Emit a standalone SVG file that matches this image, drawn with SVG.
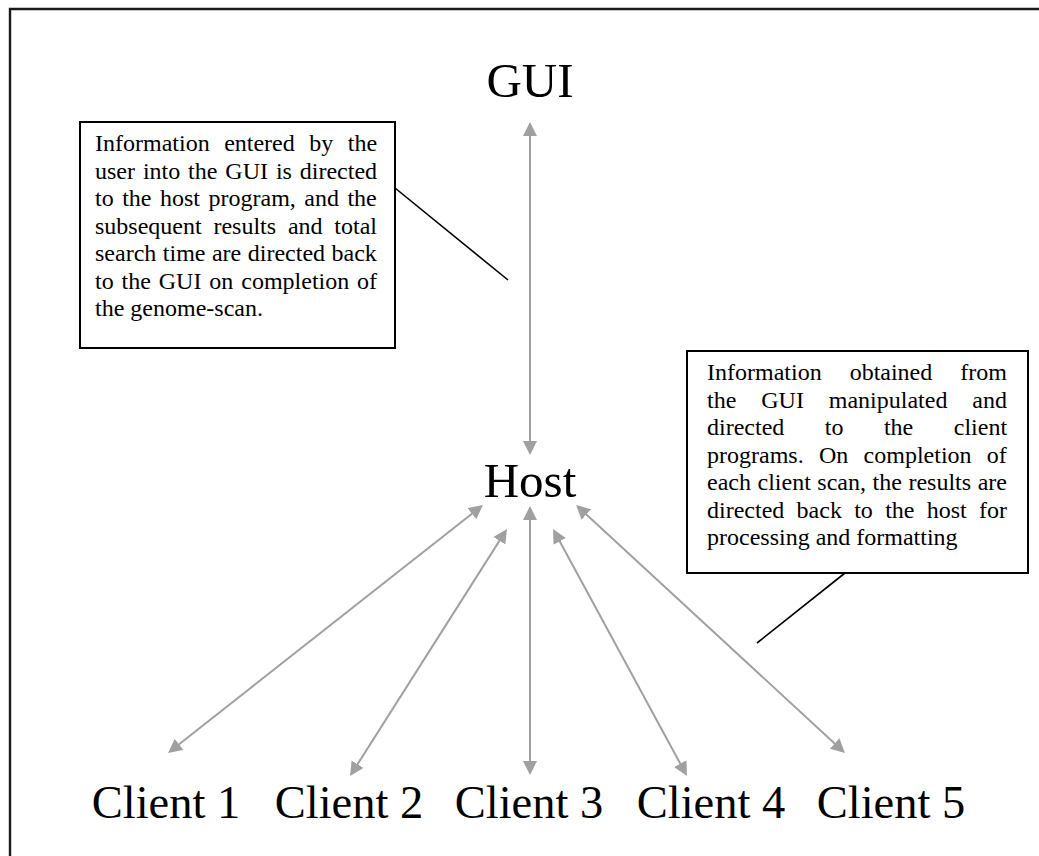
<svg xmlns="http://www.w3.org/2000/svg" width="1039" height="856" viewBox="0 0 1039 856">
<style>
.big{font-family:"Liberation Serif","Times New Roman",serif;fill:#000;text-anchor:middle}
.note{font-family:"Liberation Serif","Times New Roman",serif;font-size:24px;fill:#000}
.box{fill:#fff;stroke:#000;stroke-width:2}
.arr{stroke:#a0a0a0;stroke-width:2;fill:none;marker-start:url(#ah);marker-end:url(#ah)}
.lead{stroke:#000;stroke-width:1.6;fill:none}
</style>
<defs>
<marker id="ah" markerUnits="userSpaceOnUse" markerWidth="15" markerHeight="15" refX="4" refY="7" orient="auto-start-reverse" viewBox="0 0 15 14">
<path d="M0,0 L14,7 L0,14 z" fill="#a0a0a0"/>
</marker>
</defs>
<rect width="1039" height="856" fill="#fff"/>
<path d="M10,856 L10,9 L1039,9" fill="none" stroke="#1a1a1a" stroke-width="2.4"/>
<g id="connectors">
<line class="arr" x1="530" y1="132" x2="530" y2="445"/>
<line class="arr" x1="475.1" y1="511.2" x2="175.9" y2="746.8"/>
<line class="arr" x1="501.6" y1="537.4" x2="355.4" y2="767.6"/>
<line class="arr" x1="530" y1="516" x2="530" y2="765"/>
<line class="arr" x1="557.8" y1="537.8" x2="682.2" y2="767.2"/>
<line class="arr" x1="583.4" y1="511.8" x2="837.6" y2="746.2"/>
<line class="lead" x1="395" y1="188" x2="508" y2="280"/>
<line class="lead" x1="845" y1="573" x2="757" y2="643"/>
</g>
<g id="gui"><text class="big" x="530" y="97" font-size="49">GUI</text></g>
<g id="host"><text class="big" x="530" y="497" font-size="49">Host</text></g>
<g id="client1"><text class="big" x="166" y="818" font-size="46.5">Client 1</text></g>
<g id="client2"><text class="big" x="349" y="818" font-size="46.5">Client 2</text></g>
<g id="client3"><text class="big" x="529" y="818" font-size="46.5">Client 3</text></g>
<g id="client4"><text class="big" x="711" y="818" font-size="46.5">Client 4</text></g>
<g id="client5"><text class="big" x="891" y="818" font-size="46.5">Client 5</text></g>
<g id="note-gui">
<rect class="box" x="80" y="122" width="315" height="226"/>
<text class="note" x="95" y="151" word-spacing="8.5">Information entered by the</text>
<text class="note" x="95" y="178.5" word-spacing="1.9">user into the GUI is directed</text>
<text class="note" x="95" y="206" word-spacing="2.5">to the host program, and the</text>
<text class="note" x="95" y="233.5" word-spacing="5.8">subsequent results and total</text>
<text class="note" x="95" y="261" word-spacing="0.5">search time are directed back</text>
<text class="note" x="95" y="288.5" word-spacing="1.9">to the GUI on completion of</text>
<text class="note" x="95" y="316">the genome-scan.</text>
</g>
<g id="note-host">
<rect class="box" x="687" y="351" width="341" height="222"/>
<text class="note" x="707" y="380" word-spacing="22">Information obtained from</text>
<text class="note" x="707" y="407.5" word-spacing="18.9">the GUI manipulated and</text>
<text class="note" x="707" y="435" word-spacing="34.5">directed to the client</text>
<text class="note" x="707" y="462.5" word-spacing="9.3">programs. On completion of</text>
<text class="note" x="707" y="490" word-spacing="0.55">each client scan, the results are</text>
<text class="note" x="707" y="517.5" word-spacing="6.3">directed back to the host for</text>
<text class="note" x="707" y="545">processing and formatting</text>
</g>
</svg>
